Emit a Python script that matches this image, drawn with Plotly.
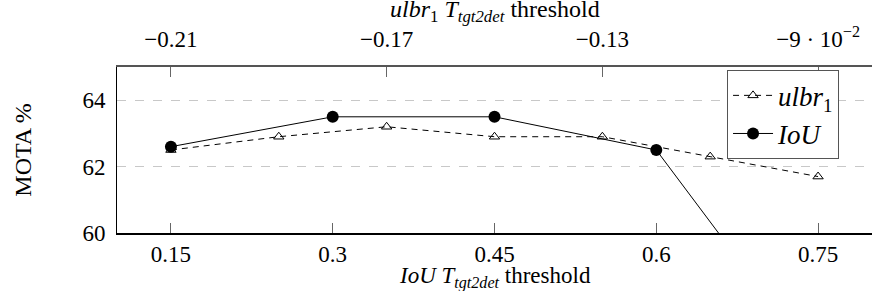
import plotly.graph_objects as go

# Data
iou_x = [0.15, 0.3, 0.45, 0.6, 0.75]
iou_y = [62.6, 63.5, 63.5, 62.5, 56.0]
ulbr_x = [-0.21, -0.19, -0.17, -0.15, -0.13, -0.11, -0.09]
ulbr_y = [62.5, 62.9, 63.2, 62.9, 62.9, 62.3, 61.7]

bottom_ticks = [0.15, 0.3, 0.45, 0.6, 0.75]
bottom_ticktext = ["0.15", "0.3", "0.45", "0.6", "0.75"]
top_ticks = [-0.21, -0.17, -0.13, -0.09]
top_ticktext = ["−0.21", "−0.17", "−0.13", "−9 · 10<sup>−2</sup>"]
y_ticks = [60, 62, 64]

FONT = "Liberation Serif"

fig = go.Figure()
fig.add_trace(go.Scatter(
    x=ulbr_x, y=ulbr_y, xaxis="x2", yaxis="y", mode="lines+markers",
    name="<i>ulbr</i><sub>1</sub>",
    line=dict(color="black", width=1, dash="6px,5px"),
    marker=dict(symbol="triangle-up-open", size=9, color="black", line=dict(width=1)),
))
fig.add_trace(go.Scatter(
    x=iou_x, y=iou_y, xaxis="x", yaxis="y", mode="lines+markers",
    name="<i>IoU</i>",
    line=dict(color="black", width=1),
    marker=dict(symbol="circle", size=12, color="black"),
))

fig.update_layout(
    width=872, height=291,
    margin=dict(l=117, r=0, t=67, b=58, autoexpand=False),
    plot_bgcolor="white", paper_bgcolor="white",
    font=dict(family=FONT, size=23, color="black"),
    showlegend=True,
    legend=dict(
        x=0.808, y=0.98, xanchor="left", yanchor="top",
        bgcolor="white", bordercolor="#555", borderwidth=1,
        font=dict(family=FONT, size=27), tracegroupgap=0,
        itemwidth=40,
    ),
    xaxis=dict(
        range=[0.1, 0.8], tickvals=bottom_ticks, ticktext=bottom_ticktext,
        ticks="inside", ticklen=10, tickcolor="#666", showgrid=False,
        showline=True, linecolor="black", linewidth=1.5, zeroline=False,
        automargin=False, ticklabelstandoff=0,
    ),
    xaxis2=dict(
        overlaying="x", side="top", range=[-0.22, -0.08],
        tickvals=top_ticks, ticktext=top_ticktext,
        ticks="inside", ticklen=10, tickcolor="#666", showgrid=False,
        showline=True, linecolor="#555", linewidth=1.5, zeroline=False,
        automargin=False, ticklabelstandoff=9,
    ),
    yaxis=dict(
        range=[60, 65], tickvals=y_ticks, ticks="", showline=True,
        linecolor="black", linewidth=1, zeroline=False, automargin=False,
        showgrid=True, gridcolor="#c8c8c8", griddash="dash", gridwidth=1,
        ticklabelstandoff=6,
    ),
    annotations=[
        dict(text="<i>ulbr</i><sub>1</sub> <i>T</i><sub><i>tgt2det</i></sub> threshold",
             xref="paper", yref="paper", x=0.5, y=1.335, xanchor="center", yanchor="middle",
             showarrow=False, font=dict(size=24)),
        dict(text="<i>IoU</i> <i>T</i><sub><i>tgt2det</i></sub> threshold",
             xref="paper", yref="paper", x=0.5, y=-0.268, xanchor="center", yanchor="middle",
             showarrow=False, font=dict(size=23)),
        dict(text="MOTA %", textangle=-90,
             xref="paper", yref="paper", x=-0.125, y=0.5, xanchor="center", yanchor="middle",
             showarrow=False, font=dict(size=24)),
    ],
)

fig.write_html(
    "out.html",
    config={"displayModeBar": False},
    post_script="document.body.style.margin='0';document.body.style.padding='0';document.body.style.overflow='hidden';",
)
